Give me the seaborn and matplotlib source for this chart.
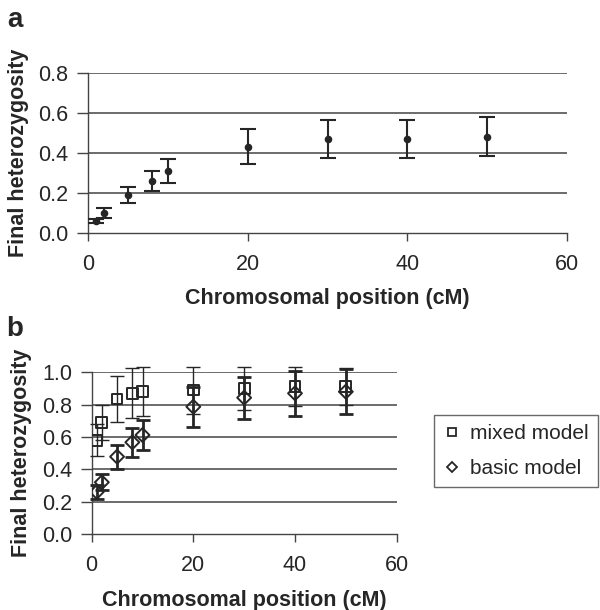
import numpy as np
import pandas as pd
import matplotlib
matplotlib.use("Agg")
import matplotlib.pyplot as plt
import seaborn as sns
from matplotlib.lines import Line2D

# panel a
pos_a = [1, 2, 5, 8, 10, 20, 30, 40, 50]
het_a = [0.06, 0.10, 0.19, 0.26, 0.31, 0.43, 0.47, 0.47, 0.48]
err_a = [0.01, 0.025, 0.04, 0.05, 0.06, 0.088, 0.095, 0.096, 0.097]

# panel b
pos_b = [1, 2, 5, 8, 10, 20, 30, 40, 50]
mixed = [0.58, 0.69, 0.835, 0.87, 0.88, 0.89, 0.90, 0.91, 0.91]
mixed_err = [0.10, 0.11, 0.145, 0.155, 0.15, 0.145, 0.135, 0.12, 0.115]
basic = [0.26, 0.32, 0.478, 0.567, 0.612, 0.787, 0.843, 0.87, 0.88]
basic_err = [0.045, 0.05, 0.075, 0.09, 0.095, 0.125, 0.13, 0.14, 0.14]

sns.set_style("white")
plt.rcParams["font.family"] = ["Liberation Sans", "DejaVu Sans"]

ink = "#262626"
grid_c = "#444444"

fig = plt.figure(figsize=(6, 6.1), dpi=100)
ax1 = fig.add_axes([0.1467, 0.6185, 0.7983, 0.2623])
ax2 = fig.add_axes([0.1528, 0.1246, 0.5083, 0.2651])


def style_axis(ax, ymax, yticks):
    ax.set_xlim(0, 60)
    ax.set_ylim(0, ymax)
    ax.set_xticks([0, 20, 40, 60])
    ax.set_yticks(yticks)
    ax.set_yticklabels([f"{t:.1f}" for t in yticks])
    for t in yticks[1:]:
        ax.axhline(t, color=grid_c, lw=1.1, zorder=1)
    for s in ["top", "right"]:
        ax.spines[s].set_visible(False)
    for s in ["left", "bottom"]:
        ax.spines[s].set_color(grid_c)
        ax.spines[s].set_linewidth(1.0)
    ax.tick_params(axis="both", which="major", labelsize=15.5, colors=grid_c,
                   labelcolor=ink, length=6, width=1.0, direction="out",
                   bottom=True, left=True)
    ax.tick_params(axis="y", length=8, pad=6)
    ax.tick_params(axis="x", pad=9)


style_axis(ax1, 0.8, [0.0, 0.2, 0.4, 0.6, 0.8])
style_axis(ax2, 1.0, [0.0, 0.2, 0.4, 0.6, 0.8, 1.0])

# panel a
df_a = pd.DataFrame({"pos": pos_a, "het": het_a})
ax1.errorbar(pos_a, het_a, yerr=err_a, fmt="none", ecolor=ink, elinewidth=1.5,
             capsize=5.5, capthick=1.5, zorder=3)
sns.scatterplot(data=df_a, x="pos", y="het", ax=ax1, marker="o", s=30,
                color=ink, edgecolor=ink, linewidth=0, zorder=4)

# panel b
df_b = pd.DataFrame({"pos": pos_b, "mixed": mixed, "basic": basic})
ax2.errorbar(pos_b, mixed, yerr=mixed_err, fmt="none", ecolor=ink, elinewidth=1.0,
             capsize=5, capthick=1.0, zorder=3, clip_on=False)
ax2.errorbar(pos_b, basic, yerr=basic_err, fmt="none", ecolor=ink, elinewidth=2.0,
             capsize=5, capthick=2.0, zorder=3, clip_on=False)
sns.scatterplot(data=df_b, x="pos", y="mixed", ax=ax2, marker="s", s=60,
                facecolor="none", edgecolor=ink, linewidth=1.4, zorder=4)
sns.scatterplot(data=df_b, x="pos", y="basic", ax=ax2, marker="D", s=50,
                facecolor="none", edgecolor=ink, linewidth=1.4, zorder=4)

for ax in (ax1, ax2):
    ax.set_xlabel("Chromosomal position (cM)", fontsize=15.5, fontweight="bold",
                  color=ink, labelpad=10)
    ax.set_ylabel("Final heterozygosity", fontsize=15.5, fontweight="bold",
                  color=ink, labelpad=7)

handles = [
    Line2D([], [], ls="none", marker="s", ms=6, mfc="none", mec=ink, mew=1.3),
    Line2D([], [], ls="none", marker="D", ms=5.5, mfc="none", mec=ink, mew=1.3),
]
leg = fig.legend(handles, ["mixed model", "basic model"], loc="upper left",
                 bbox_to_anchor=(0.723, 0.3197), borderaxespad=0, fontsize=15,
                 frameon=True, fancybox=False, edgecolor="#444444",
                 handlelength=0.8, handletextpad=0.5, labelspacing=0.75,
                 borderpad=0.45)
leg.get_frame().set_linewidth(1.0)
for t in leg.get_texts():
    t.set_color(ink)

fig.text(0.025, 0.967, "a", fontsize=20, fontweight="bold", color=ink,
         ha="center", va="center")
fig.text(0.025, 0.461, "b", fontsize=20, fontweight="bold", color=ink,
         ha="center", va="center")

fig.savefig("out.png", dpi=100, facecolor="white")
